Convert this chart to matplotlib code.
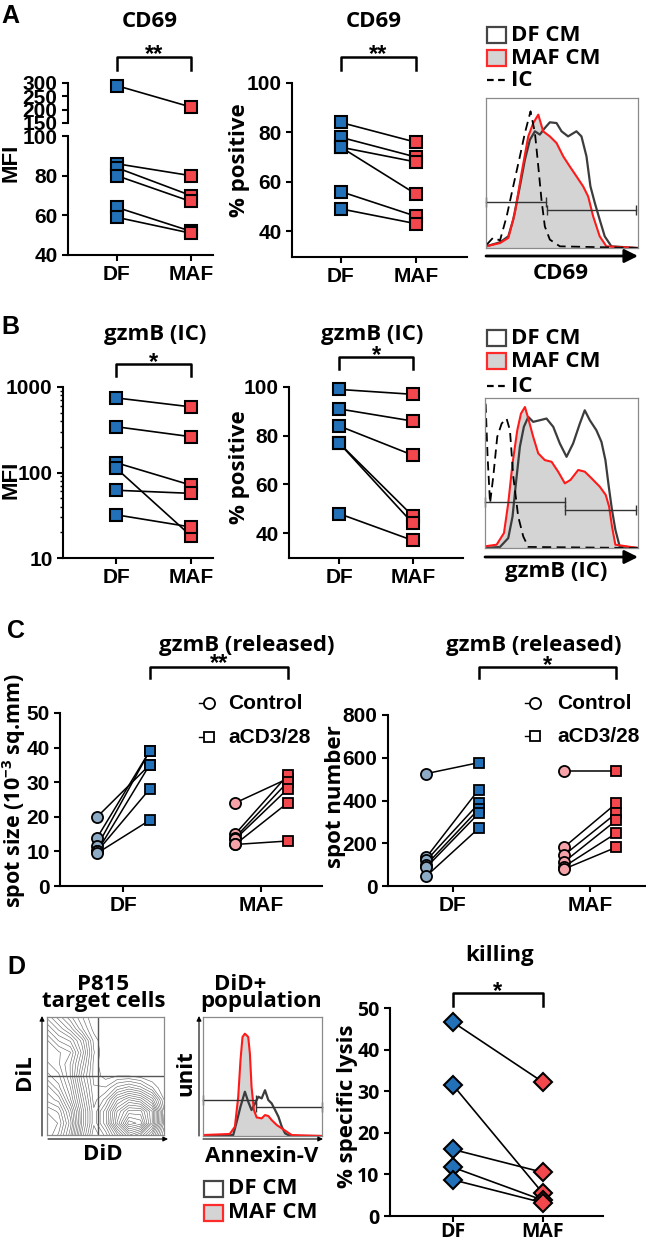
import matplotlib
matplotlib.use("Agg")
import matplotlib.pyplot as plt
import numpy as np
from matplotlib.patches import Rectangle
from matplotlib.lines import Line2D
from matplotlib.ticker import LogLocator, NullFormatter
from matplotlib.transforms import blended_transform_factory

W, H = 646, 1243

# ---------------- data ----------------
cats = ["DF", "MAF"]

# A  CD69
cd69_mfi_df = [290, 86, 84, 80, 64, 59]
cd69_mfi_maf = [210, 80, 70, 67, 52, 51]
cd69_pos_df = [84, 78, 74, 74, 56, 49]
cd69_pos_maf = [76, 70, 68, 55, 46, 43]

# B  gzmB (IC)
gzmb_mfi_df = [745, 343, 130, 112, 62, 32]
gzmb_mfi_maf = [585, 262, 71, 18, 57, 23]
gzmb_pos_df = [99, 91, 84, 77, 77, 48]
gzmb_pos_maf = [97, 86, 72, 47, 44, 37]

# C  gzmB (released)
size_df_ctrl = [20, 14, 11.5, 10, 10, 9.5]
size_df_stim = [35, 39, 39, 35, 28, 19]
size_maf_ctrl = [24, 15, 14, 13.5, 12, 12]
size_maf_stim = [31, 32, 30, 28, 24, 13]
num_df_ctrl = [526, 135, 120, 100, 88, 47]
num_df_stim = [577, 451, 386, 360, 340, 270]
num_maf_ctrl = [540, 181, 144, 112, 90, 79]
num_maf_stim = [540, 386, 340, 307, 247, 181]

# D  killing
lysis_df = [46.6, 31.5, 16, 11.7, 8.7]
lysis_maf = [32.2, 5.5, 10.5, 3.8, 3.2]

# histogram traces: channel (0-100) and height (% of panel)
cd69_ic_x = [0.4, 4.8, 9.2, 13.6, 17.9, 22.3, 25.6, 29.3, 32.2, 34.4, 36.5, 38.7, 42.0, 48.6, 100]
cd69_ic_y = [2.2, 7.0, 5.0, 21.1, 41.1, 61.1, 76.7, 91.1, 76.7, 54.4, 32.2, 14.4, 5.6, 1.1, 0]
cd69_df_x = [0, 9.2, 14.7, 17.9, 22.3, 25.6, 28.9, 32.2, 35.4, 38.7, 42, 46.4, 49.7, 54, 59.5, 62.8,
             66.1, 68.7, 71.6, 74.8, 78.1, 82.5, 100]
cd69_df_y = [1.1, 3.8, 7.8, 18.9, 41.1, 58.9, 72.2, 77.8, 75.6, 80, 83.8, 83.3, 77.8, 74.4, 77.8, 74.4,
             61.1, 41.1, 30, 18.9, 7.8, 1.1, 0]
cd69_maf_x = [0, 9.2, 14.7, 19, 23.4, 27.8, 31.1, 34.4, 37.6, 42, 46.4, 50.8, 55.1, 59.5, 63.9, 67.2,
              70.5, 74.8, 79.2, 100]
cd69_maf_y = [1.1, 3.3, 6.7, 23.3, 50, 74.4, 83.3, 88.9, 77.8, 74.4, 70, 61.1, 54.4, 47.8, 41.1, 34.4,
              21.1, 7.8, 1.1, 0]
cd69_gates = [(0, 39.2, 30.4), (40.3, 99, 25.1)]

gzmb_ic_x = [0.4, 1.7, 3.3, 5.4, 8, 10.9, 14.1, 16.3, 18.5, 21.7, 25, 28.3, 100]
gzmb_ic_y = [96.2, 60.8, 29.9, 47.6, 74.1, 83, 86.3, 78.5, 47.6, 21, 7.7, 0.7, 0]
gzmb_df_x = [0, 9.8, 15.2, 18, 20.2, 22.8, 25.4, 28.3, 31.5, 35.9, 40.2, 44.6, 48.9, 53.3, 57.6, 62,
             65.2, 68.5, 72.8, 76.1, 78.7, 80.9, 83, 85.2, 88, 100]
gzmb_df_y = [0, 0.7, 6.6, 21, 43.1, 67.5, 80.8, 87.4, 84.1, 85.2, 86.3, 80.8, 69.7, 60.8, 69.7, 83,
             91.8, 85.2, 78.5, 70.8, 58.6, 40.9, 25.4, 12.2, 1.1, 0]
gzmb_maf_x = [0, 7.6, 12.4, 15.2, 18, 21.1, 23.5, 26.1, 28.3, 31.5, 34.8, 39.1, 43.5, 47.8, 52.2,
              55.9, 60.9, 65.2, 69.6, 75, 78.9, 81.1, 83, 85.2, 100]
gzmb_maf_y = [1.1, 2.2, 10, 29.9, 56.4, 78.5, 89.6, 94, 86.3, 74.1, 63.1, 58.6, 57.5, 50.9, 43.1,
              45.4, 52, 50.9, 46.5, 40.9, 35.4, 27.7, 14.4, 2.2, 0]
gzmb_gates = [(0, 52.2, 30.5), (52.6, 99, 25.4)]

annex_df_x = [0, 25.4, 28.7, 31.5, 35.2, 38, 40.8, 43.7, 46.5, 49.3, 52.1, 54.9, 57.7, 60.6, 63.4,
              66.2, 69, 73.2, 100]
annex_df_y = [0, 0.8, 13.4, 24.6, 37.2, 28.8, 21.8, 27.4, 33, 31.6, 38.5, 30.2, 27.4, 21.8, 16.2,
              7.8, 2.2, 0, 0]
annex_maf_x = [0, 22.5, 26.8, 29.6, 31.5, 33.2, 35.2, 38, 39.4, 40.8, 42.8, 45.1, 49.3, 52.1, 54.9,
               57.7, 62, 66.2, 70.4, 74.6, 100]
annex_maf_y = [0.8, 1.7, 7.8, 33, 63.7, 83.2, 86, 83.2, 69.3, 41.3, 21.8, 15.6, 14.8, 17.6, 16.8,
               13.4, 9.2, 6.4, 3.6, 0.8, 0]
annex_gates = [(0, 44.5, 30.2), (44.5, 100, 24.6)]

# P815 contour: estimated density, rows from top (DiL high) to bottom
p815_density = [
    [4, 3, 2, 1, 0, 0, 0, 0, 0, 0, 0],
    [5, 4, 3, 1.5, 0.3, 0, 0, 0, 0, 0, 0],
    [6, 5, 4.5, 3, 0.8, 0, 0, 0, 0, 0, 0],
    [6, 6, 5.5, 3.5, 1, 0, 0, 0, 0, 0, 0],
    [6.5, 6, 5, 3, 0.8, 0, 0, 0, 0, 0, 0],
    [7, 6.5, 5, 2.5, 0.8, 0.3, 0.5, 0.5, 0.3, 0, 0],
    [8, 7, 5.5, 3, 1, 1, 2, 2.5, 2, 1, 0],
    [8.5, 8, 6, 3.5, 1.2, 2, 4, 5, 4.5, 3, 0.5],
    [9.5, 9, 7, 4, 1.5, 3, 5.5, 7, 7, 5, 1],
    [10, 9.5, 7.5, 4, 1.5, 3, 6, 8.5, 8, 5, 0.8],
    [10, 9, 7, 3.5, 1, 2, 4, 6, 5, 3, 0],
]

# ---------------- style ----------------
BLUE = "#2170b8"
RED = "#f2474d"
LBLUE = "#8eabc6"
PINK = "#f5a3a8"
TITLE_FONT = "Open Sans"

plt.rcParams["font.family"] = ["Liberation Sans", "DejaVu Sans"]
plt.rcParams["font.weight"] = "bold"
plt.rcParams["mathtext.default"] = "regular"
plt.rcParams["axes.linewidth"] = 1.5
plt.rcParams["xtick.major.width"] = 1.5
plt.rcParams["ytick.major.width"] = 1.5
plt.rcParams["xtick.major.size"] = 4
plt.rcParams["ytick.major.size"] = 4
plt.rcParams["xtick.labelsize"] = 15
plt.rcParams["ytick.labelsize"] = 15

fig = plt.figure(figsize=(W / 100, H / 100), dpi=100)
ov = fig.add_axes([0, 0, 1, 1])
ov.set_xlim(0, W)
ov.set_ylim(H, 0)
ov.axis("off")
ov.set_zorder(5)


def px_axes(x0, y0, x1, y1):
    ax = fig.add_axes([x0 / W, 1 - y1 / H, (x1 - x0) / W, (y1 - y0) / H])
    ax.patch.set_alpha(0)
    return ax


def dot_axes(ax, xlim, ylim, yticks):
    ax.spines["top"].set_visible(False)
    ax.spines["right"].set_visible(False)
    ax.set_xlim(*xlim)
    ax.set_ylim(*ylim)
    ax.set_yticks(yticks)
    ax.set_xticks([0, 1])
    ax.set_xticklabels(cats)


def paired(ax, a, b, ca, cb, marker="s", ms=8, xa=0, xb=1):
    for va, vb in zip(a, b):
        ax.plot([xa, xb], [va, vb], color="black", lw=1.2, zorder=2)
    ax.plot([xa] * len(a), a, ls="none", marker=marker, ms=ms, mfc=ca, mec="black",
            mew=1.5, zorder=3, clip_on=False)
    ax.plot([xb] * len(b), b, ls="none", marker=marker, ms=ms, mfc=cb, mec="black",
            mew=1.5, zorder=3, clip_on=False)


def bracket(ax, x0, x1, y_top, y_bot, stars, star_y, size=17):
    tr = blended_transform_factory(ax.transData, ov.transData)
    ax.add_line(Line2D([x0, x0, x1, x1], [y_bot, y_top, y_top, y_bot], color="black",
                       lw=1.8, transform=tr, clip_on=False))
    ax.text((x0 + x1) / 2, star_y, stars, transform=tr, ha="center", va="baseline",
            fontsize=size, fontweight="bold")


def title(x, y, s, size=16):
    ov.text(x, y, s, ha="center", va="center", fontsize=size, family=TITLE_FONT,
            fontweight="bold")


def ylab(x, y, s, size=16, family=TITLE_FONT):
    ov.text(x, y, s, ha="center", va="center", rotation=90, fontsize=size,
            family=family, fontweight="bold")


def hist_panel(ax, maf, df, ic, gates):
    ax.fill_between(maf[0], maf[1], color="#d4d4d4", lw=0)
    ax.plot(df[0], df[1], color="#3c3c3c", lw=1.6)
    ax.plot(maf[0], maf[1], color="#ff1a1a", lw=1.5)
    if ic is not None:
        ax.plot(ic[0], ic[1], color="black", ls=(0, (5, 3)), lw=1.3)
    for g0, g1, gy in gates:
        ax.plot([g0, g1], [gy, gy], color="#333333", lw=1, marker="|", ms=7, mew=1,
                clip_on=False)
    ax.set_xlim(0, 100)
    ax.set_ylim(0, 100)
    ax.set_xticks([])
    ax.set_yticks([])
    for s in ax.spines.values():
        s.set_linewidth(0.9)
        s.set_color("#8a8a8a")


def hist_legend(x, y_df, y_maf, y_ic=None):
    ov.add_patch(Rectangle((x, y_df - 8), 19, 16, fc="white", ec="#454545", lw=1.6))
    ov.add_patch(Rectangle((x, y_maf - 8), 19, 16, fc="#d4d4d4", ec="#ff2a2a", lw=1.6))
    ov.text(x + 24, y_df, "DF CM", va="center", fontsize=16, family=TITLE_FONT, fontweight="bold")
    ov.text(x + 24, y_maf, "MAF CM", va="center", fontsize=16, family=TITLE_FONT, fontweight="bold")
    if y_ic is not None:
        ov.plot([x, x + 19], [y_ic, y_ic], color="black", ls=(0, (3, 2)), lw=1.6)
        ov.text(x + 24, y_ic, "IC", va="center", fontsize=16, family=TITLE_FONT, fontweight="bold")


def arrow(x0, y0, x1, y1, lw=2, scale=20):
    ov.annotate("", xy=(x1, y1), xytext=(x0, y0),
                arrowprops=dict(arrowstyle="-|>", lw=lw, color="black", mutation_scale=scale,
                                shrinkA=0, shrinkB=0))


# panel letters
for letter, lx, ly in [("A", 10, 16), ("B", 10, 327), ("C", 16, 631), ("D", 16, 967)]:
    ov.text(lx, ly, letter, ha="center", va="center", fontsize=18, fontweight="bold")

# ---------------- A ----------------
ax_up = px_axes(68, 83, 213, 123)
ax_lo = px_axes(68, 136, 213, 255)
dot_axes(ax_lo, (-0.66, 1.30), (40, 100), [40, 60, 80, 100])
dot_axes(ax_up, (-0.66, 1.30), (150, 300), [150, 200, 250, 300])
ax_up.spines["bottom"].set_visible(False)
ax_up.set_xticks([])
hi = [i for i, v in enumerate(cd69_mfi_df) if v > 100]
lo = [i for i, v in enumerate(cd69_mfi_df) if v <= 100]
paired(ax_up, [cd69_mfi_df[i] for i in hi], [cd69_mfi_maf[i] for i in hi], BLUE, RED)
paired(ax_lo, [cd69_mfi_df[i] for i in lo], [cd69_mfi_maf[i] for i in lo], BLUE, RED)
bracket(ax_lo, 0, 1, 57, 70, "**", 61)
title(150, 21, "CD69")
ylab(11, 163, "MFI", family="Liberation Sans")

ax = px_axes(292, 83, 467, 257)
dot_axes(ax, (-0.65, 1.68), (29.5, 100), [40, 60, 80, 100])
paired(ax, cd69_pos_df, cd69_pos_maf, BLUE, RED)
bracket(ax, 0, 1, 57, 70, "**", 61)
title(374, 21, "CD69")
ylab(240, 160, "% positive")

ax = px_axes(486, 98, 638, 248)
hist_panel(ax, (cd69_maf_x, cd69_maf_y), (cd69_df_x, cd69_df_y), (cd69_ic_x, cd69_ic_y), cd69_gates)
hist_legend(487, 35, 58, 80)
arrow(486, 256, 638, 256)
title(561, 273, "CD69")

# ---------------- B ----------------
ax = px_axes(63, 387, 213, 558)
ax.set_yscale("log")
dot_axes(ax, (-0.71, 1.29), (10, 1000), [10, 100, 1000])
ax.set_yticklabels(["10", "100", "1000"])
ax.yaxis.set_minor_locator(LogLocator(base=10, subs=range(2, 10)))
ax.yaxis.set_minor_formatter(NullFormatter())
ax.tick_params(axis="y", which="minor", length=2.5, width=1)
paired(ax, gzmb_mfi_df, gzmb_mfi_maf, BLUE, RED)
bracket(ax, 0, 1, 364, 376, "*", 369)
title(155, 334, "gzmB (IC)")
ylab(11, 480, "MFI", family="Liberation Sans")

ax = px_axes(289, 387, 463, 558)
dot_axes(ax, (-0.68, 1.68), (29.8, 100), [40, 60, 80, 100])
paired(ax, gzmb_pos_df, gzmb_pos_maf, BLUE, RED)
bracket(ax, 0, 1, 357, 369, "*", 362)
title(372, 334, "gzmB (IC)")
ylab(239, 467, "% positive")

ax = px_axes(485, 398, 638, 548)
hist_panel(ax, (gzmb_maf_x, gzmb_maf_y), (gzmb_df_x, gzmb_df_y), (gzmb_ic_x, gzmb_ic_y), gzmb_gates)
hist_legend(487, 338, 361, 386)
arrow(485, 557, 638, 557)
title(556, 571, "gzmB (IC)")

# ---------------- C ----------------
OFF = 0.19


def released(ax, ctrl, stim, c_ctrl, c_stim, xc):
    for a, b in zip(ctrl, stim):
        ax.plot([xc - OFF, xc + OFF], [a, b], color="black", lw=1.1, zorder=2)
    ax.plot([xc - OFF] * len(ctrl), ctrl, ls="none", marker="o", ms=8, mfc=c_ctrl, mec="black",
            mew=1.3, zorder=3, clip_on=False)
    ax.plot([xc + OFF] * len(stim), stim, ls="none", marker="s", ms=7.5, mfc=c_stim, mec="black",
            mew=1.3, zorder=3, clip_on=False)


def c_legend(xm, xt, y1, y2):
    for yy, mk in [(y1, "o"), (y2, "s")]:
        ov.plot([xm - 10, xm], [yy, yy], color="black", lw=1)
        ov.plot([xm], [yy], marker=mk, ms=8 if mk == "o" else 7.5, mfc="white", mec="black", mew=1.3)
    ov.text(xt, y1, "Control", va="center", fontsize=15, fontweight="bold")
    ov.text(xt, y2, "aCD3/28", va="center", fontsize=15, fontweight="bold")


ax = px_axes(60, 713, 322, 886)
dot_axes(ax, (-0.46, 1.44), (0, 50), [0, 10, 20, 30, 40, 50])
released(ax, size_df_ctrl, size_df_stim, LBLUE, BLUE, 0)
released(ax, size_maf_ctrl, size_maf_stim, PINK, RED, 1)
bracket(ax, OFF, 1 + OFF, 667, 678, "**", 670)
title(247, 645, "gzmB (released)")
ylab(14, 791, "spot size (10$^{-3}$ sq.mm)", size=15.5)
c_legend(209, 228, 703, 737)

ax = px_axes(388, 715, 645, 886)
dot_axes(ax, (-0.47, 1.40), (0, 800), [0, 200, 400, 600, 800])
released(ax, num_df_ctrl, num_df_stim, LBLUE, BLUE, 0)
released(ax, num_maf_ctrl, num_maf_stim, PINK, RED, 1)
bracket(ax, OFF, 1 + OFF, 667, 678, "*", 672)
title(534, 645, "gzmB (released)")
ylab(336, 797, "spot number")
c_legend(535, 557, 703, 736)

# ---------------- D ----------------
ax = px_axes(47, 1017, 164, 1135)
gx = np.linspace(0, 1, len(p815_density[0]))
gy = np.linspace(1, 0, len(p815_density))
ax.contour(gx, gy, np.array(p815_density), levels=np.linspace(0.5, 10, 22), colors="#5a5a5a",
           linewidths=0.4)
ax.axvline(0.44, color="#555555", lw=1)
ax.axhline(0.5, color="#555555", lw=1)
ax.set_xlim(0, 1)
ax.set_ylim(0, 1)
ax.set_xticks([])
ax.set_yticks([])
for s in ax.spines.values():
    s.set_linewidth(0.9)
    s.set_color("#8a8a8a")
arrow(42, 1136, 42, 1016, lw=0.8, scale=7)
arrow(48, 1139, 168, 1139, lw=0.8, scale=7)
title(103, 984, "P815")
title(104, 1001, "target cells")
ylab(25, 1072, "DiL")
title(103, 1155, "DiD")

ax = px_axes(203, 1017, 322, 1136)
hist_panel(ax, (annex_maf_x, annex_maf_y), (annex_df_x, annex_df_y), None, annex_gates)
arrow(199, 1136, 199, 1016, lw=0.8, scale=7)
arrow(203, 1139, 323, 1139, lw=0.8, scale=7)
title(240, 984, "DiD+")
title(261, 1001, "population")
ylab(186, 1073, "unit")
title(262, 1156, "Annexin-V")
hist_legend(204, 1189, 1213)

ax = px_axes(390, 1008, 603, 1216)
dot_axes(ax, (-0.7, 1.67), (0, 50), [0, 10, 20, 30, 40, 50])
paired(ax, lysis_df, lysis_maf, BLUE, RED, marker="D", ms=9)
for lab in ax.get_xticklabels() + ax.get_yticklabels():
    lab.set_family(TITLE_FONT)
ax.tick_params(axis="x", pad=0, labelsize=14)
ax.tick_params(axis="y", labelsize=14)
bracket(ax, 0, 1, 993, 1006, "*", 998)
title(500, 955, "killing")
ylab(347, 1106, "% specific lysis")

fig.savefig("out.png", dpi=100)
